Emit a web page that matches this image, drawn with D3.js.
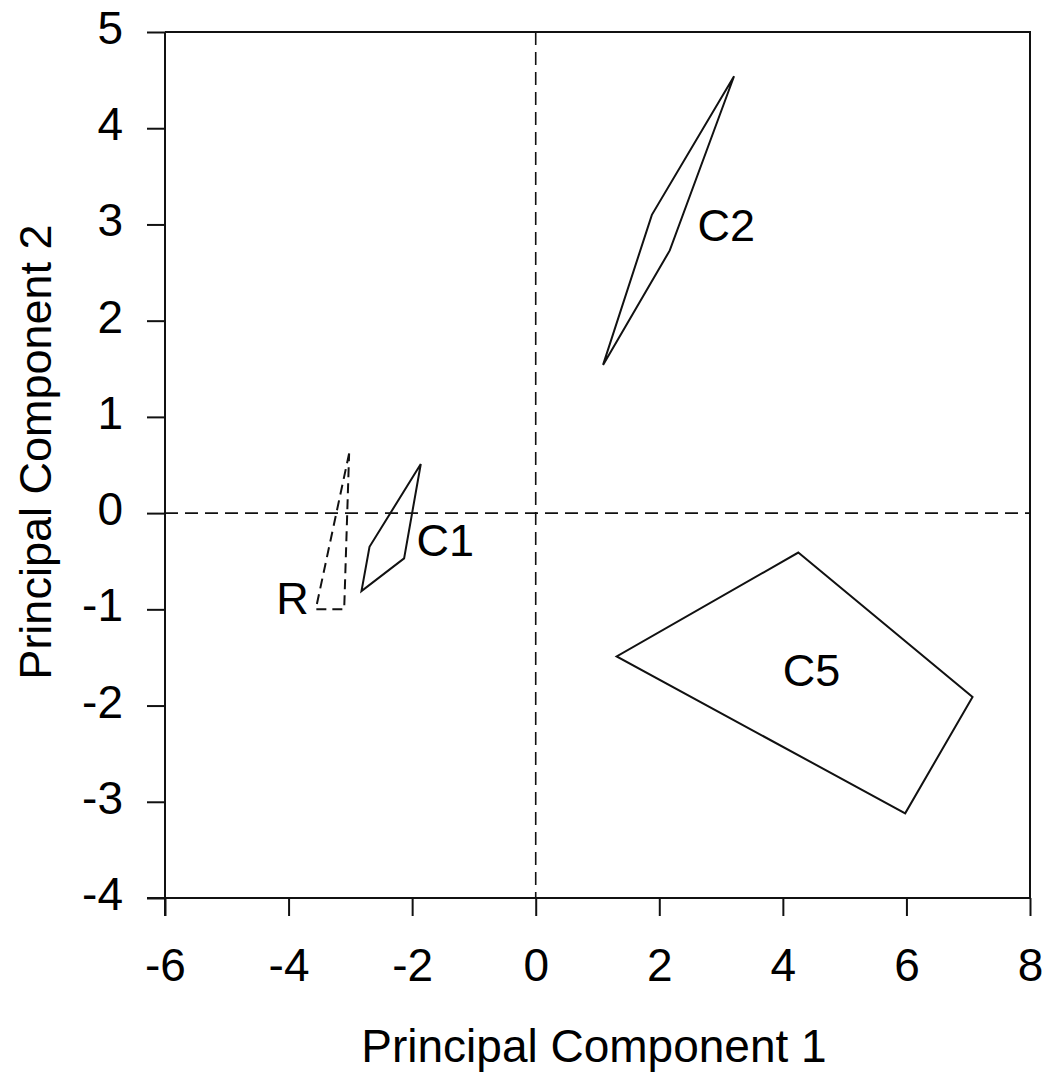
<!DOCTYPE html>
<html>
<head>
<meta charset="utf-8">
<script src="https://cdn.jsdelivr.net/npm/d3@7/dist/d3.min.js"></script>
<style>
  html, body { margin: 0; padding: 0; background: #fff; }
  svg { display: block; font-family: "Liberation Sans", Arial, sans-serif; }
</style>
</head>
<body>
<svg id="chart" width="1050" height="1077"></svg>
<script>
// ---- data ----
const groupNames = ["R", "C1", "C2", "C5"];
const groupDashed = [true, false, false, false];
const polyR  = [[-3.02, 0.62], [-3.56, -1.00], [-3.10, -1.00]];
const polyC1 = [[-1.86, 0.51], [-2.69, -0.35], [-2.82, -0.81], [-2.13, -0.47]];
const polyC2 = [[3.21, 4.54], [1.88, 3.10], [1.09, 1.54], [2.17, 2.73]];
const polyC5 = [[4.25, -0.41], [7.07, -1.91], [5.98, -3.12], [1.31, -1.49]];
// label anchor positions (data units, left baseline)
const labelPos = [[-4.2, -1.05], [-1.93, -0.45], [2.62, 2.83], [4.0, -1.8]];
const xTicks = [-6, -4, -2, 0, 2, 4, 6, 8];
const yTicks = [-4, -3, -2, -1, 0, 1, 2, 3, 4, 5];
const xTitle = "Principal Component 1";
const yTitle = "Principal Component 2";

const polys = [polyR, polyC1, polyC2, polyC5];

// ---- layout ----
const svg = d3.select("#chart");
const mLeft = 165, mRight = 1030, mTop = 32, mBottom = 898;
const x = d3.scaleLinear().domain([-6, 8]).range([mLeft, mRight]);
const y = d3.scaleLinear().domain([-4, 5]).range([mBottom, mTop]);
const ink = "#111";
const fmt = d => String(d); // plain hyphen-minus like the reference

// frame (top & right)
svg.append("path")
  .attr("d", `M${mLeft},${mTop}H${mRight}V${mBottom}`)
  .attr("fill", "none").attr("stroke", ink).attr("stroke-width", 2);

// axes
const xAxis = d3.axisBottom(x).tickValues(xTicks).tickSize(18).tickPadding(32)
  .tickFormat(fmt);
const yAxis = d3.axisLeft(y).tickValues(yTicks).tickSize(18).tickPadding(24)
  .tickFormat(fmt);

const gx = svg.append("g").attr("transform", `translate(0,${mBottom})`).call(xAxis);
const gy = svg.append("g").attr("transform", `translate(${mLeft},0)`).call(yAxis);
[gx, gy].forEach(g => {
  g.select(".domain").attr("stroke", ink).attr("stroke-width", 2);
  g.selectAll(".tick line").attr("stroke", ink).attr("stroke-width", 2);
  g.selectAll(".tick text").attr("fill", "#000")
    .style("font-size", "46px").style("font-family", "'Liberation Sans', Arial, sans-serif");
});
gx.select(".domain").attr("d", `M${mLeft - 18},0H${mRight}`);
gy.select(".domain").attr("d", `M0,${mTop}V${mBottom + 18}`);
gy.selectAll(".tick text").attr("dy", "0.25em");

// zero reference dashed lines
svg.append("line")
  .attr("x1", x(0)).attr("x2", x(0)).attr("y1", y(5)).attr("y2", y(-4))
  .attr("stroke", ink).attr("stroke-width", 1.6).attr("stroke-dasharray", "13,7");
svg.append("line")
  .attr("x1", x(-6)).attr("x2", x(8)).attr("y1", y(0)).attr("y2", y(0))
  .attr("stroke", ink).attr("stroke-width", 1.6).attr("stroke-dasharray", "13,7");

// polygons
const line = d3.line().x(d => x(d[0])).y(d => y(d[1])).curve(d3.curveLinearClosed);
polys.forEach((p, i) => {
  svg.append("path")
    .attr("d", line(p))
    .attr("fill", "none")
    .attr("stroke", ink)
    .attr("stroke-width", 2)
    .attr("stroke-linejoin", "miter")
    .attr("stroke-dasharray", groupDashed[i] ? "10,6" : null);
});

// group labels
groupNames.forEach((name, i) => {
  svg.append("text")
    .attr("x", x(labelPos[i][0])).attr("y", y(labelPos[i][1]))
    .attr("fill", "#000")
    .style("font-size", "45px")
    .text(name);
});

// axis titles
svg.append("text")
  .attr("x", 594).attr("y", 1062)
  .attr("text-anchor", "middle").attr("fill", "#000")
  .style("font-size", "46px")
  .text(xTitle);
svg.append("text")
  .attr("transform", "translate(51,452) rotate(-90)")
  .attr("text-anchor", "middle").attr("fill", "#000")
  .style("font-size", "45px")
  .text(yTitle);
</script>
</body>
</html>
